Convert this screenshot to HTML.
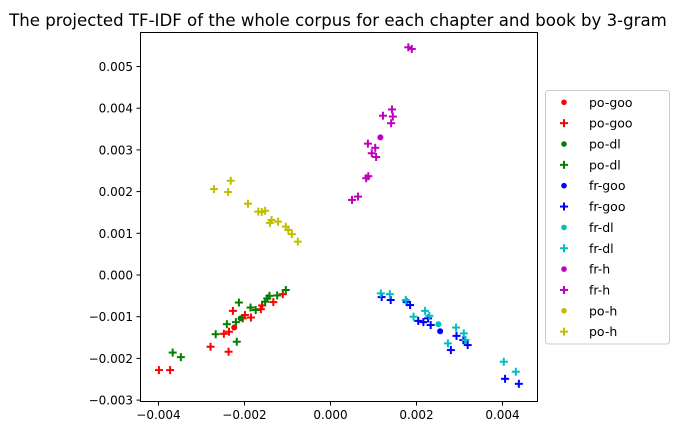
<!DOCTYPE html>
<html><head><meta charset="utf-8"><style>
body{margin:0;background:#fff;width:677px;height:435px;overflow:hidden;font-family:"Liberation Sans","DejaVu Sans",sans-serif}
svg text{font-family:"DejaVu Sans","Liberation Sans",sans-serif}
</style></head><body>
<svg id="chart" width="677" height="435" xmlns="http://www.w3.org/2000/svg">
<text x="338" y="26" font-size="16.6" text-anchor="middle">The projected TF-IDF of the whole corpus for each chapter and book by 3-gram</text>
<rect x="140.5" y="32.5" width="397" height="369" fill="none" stroke="#000" stroke-width="1"/>
<g id="axes"></g><g id="marks"></g>
<g id="legend"></g>
</svg>
<script>
const xTicks=[-0.004,-0.002,0.000,0.002,0.004];
const xTickLabels=["−0.004","−0.002","0.000","0.002","0.004"];
const yTicks=[-0.003,-0.002,-0.001,0.000,0.001,0.002,0.003,0.004,0.005];
const yTickLabels=["−0.003","−0.002","−0.001","0.000","0.001","0.002","0.003","0.004","0.005"];
const seriesNames=["po-goo","po-dl","fr-goo","fr-dl","fr-h","po-h"];
const seriesColors=["#ff0000","#008000","#0000ff","#00bfbf","#bf00bf","#bfbf00"];
const poGooX=[-0.00399,-0.00373,-0.00279,-0.00237,-0.00248,-0.00236,-0.00227,-0.00199,-0.00204,-0.00185,-0.00162,-0.00159,-0.00133,-0.00111];
const poGooY=[-0.00228,-0.00228,-0.00172,-0.00184,-0.00141,-0.00136,-0.00086,-0.00096,-0.00104,-0.00102,-0.00082,-0.00073,-0.00065,-0.00046];
const poDlX=[-0.00367,-0.00348,-0.00267,-0.00241,-0.00218,-0.00213,-0.00220,-0.00186,-0.00174,-0.00152,-0.00147,-0.00142,-0.00124,-0.00104];
const poDlY=[-0.00186,-0.00197,-0.00142,-0.00118,-0.00160,-0.00066,-0.00113,-0.00078,-0.00084,-0.00064,-0.00056,-0.00050,-0.00049,-0.00036];
const frGooX=[0.00119,0.00140,0.00177,0.00185,0.00204,0.00216,0.00227,0.00233,0.00293,0.00309,0.00319,0.00280,0.00406,0.00438];
const frGooY=[-0.00053,-0.00060,-0.00065,-0.00072,-0.00110,-0.00113,-0.00104,-0.00120,-0.00146,-0.00156,-0.00168,-0.00180,-0.00249,-0.00261];
const frDlX=[0.00117,0.00138,0.00175,0.00193,0.00220,0.00230,0.00292,0.00310,0.00314,0.00273,0.00403,0.00431];
const frDlY=[-0.00044,-0.00046,-0.00060,-0.00100,-0.00086,-0.00098,-0.00126,-0.00140,-0.00156,-0.00164,-0.00208,-0.00232];
const frHX=[0.00181,0.00189,0.00143,0.00122,0.00145,0.00141,0.00087,0.00104,0.00096,0.00106,0.00088,0.00083,0.00064,0.00050];
const frHY=[0.00546,0.00542,0.00397,0.00382,0.00380,0.00364,0.00315,0.00305,0.00292,0.00283,0.00237,0.00232,0.00188,0.00180];
const poHX=[-0.00232,-0.00271,-0.00238,-0.00192,-0.00168,-0.00152,-0.00160,-0.00137,-0.00141,-0.00122,-0.00104,-0.00098,-0.00090,-0.00076];
const poHY=[0.00226,0.00206,0.00199,0.00171,0.00152,0.00154,0.00151,0.00132,0.00125,0.00128,0.00116,0.00108,0.00098,0.00080];
const meanX=[-0.00224,-0.00209,0.00255,0.00251,0.00116,-0.00232];
const meanY=[-0.00126,-0.00104,-0.00135,-0.00118,0.00330,0.00226];
const crossX=[poGooX,poDlX,frGooX,frDlX,frHX,poHX];
const crossY=[poGooY,poDlY,frGooY,frDlY,frHY,poHY];
const showDot=[true,true,true,true,true,false];

const NS="http://www.w3.org/2000/svg";
const xs=v=>330.5+v*43000;
const ys=v=>275-v*41700;
function mk(tag,attrs,parent){const e=document.createElementNS(NS,tag);for(const k in attrs)e.setAttribute(k,attrs[k]);parent.appendChild(e);return e;}
const axes=document.getElementById('axes'),marks=document.getElementById('marks'),leg=document.getElementById('legend');
xTicks.forEach((t,i)=>{const x=xs(t);
 const l=mk('line',{x1:x,x2:x,y1:402,y2:405.5,stroke:'#000'},axes);
 
 
 const tx=mk('text',{x:x,y:419,'font-size':12,'text-anchor':'middle'},axes);tx.textContent=xTickLabels[i];
 
 });
yTicks.forEach((t,i)=>{const y=ys(t);
 const l=mk('line',{x1:136.5,x2:140.5,y1:y,y2:y,stroke:'#000'},axes);
 
 
 const tx=mk('text',{x:133,y:y+4.5,'font-size':12,'text-anchor':'end'},axes);tx.textContent=yTickLabels[i];
 
 });
function cross(x,y,c,p){const g=mk('g',{},p);mk('line',{x1:x-4,x2:x+4,y1:y,y2:y,stroke:c,'stroke-width':2},g);mk('line',{x1:x,x2:x,y1:y-4,y2:y+4,stroke:c,'stroke-width':2},g);return g;}
seriesNames.forEach((n,s)=>{
 if(showDot[s]){const d=mk('circle',{cx:xs(meanX[s]),cy:ys(meanY[s]),r:3,fill:seriesColors[s]},marks);
  
  }
 crossX[s].forEach((v,i)=>{const g=cross(xs(v),ys(crossY[s][i]),seriesColors[s],marks);
  
  });
});
mk('rect',{x:545.5,y:90.5,width:124,height:253.5,rx:3,fill:'#fff',stroke:'#ccc'},leg);
seriesNames.forEach((n,s)=>{
 [0,1].forEach(k=>{const y=102.3+(s*2+k)*20.85;
  const g=mk('g',{},leg);
  
  
  if(k===0)mk('circle',{cx:564,cy:y,r:2.8,fill:seriesColors[s]},g);else cross(564,y,seriesColors[s],g);
  const t=mk('text',{x:589,y:y+4.5,'font-size':12.5},g);t.textContent=n;});
});
</script>
</body></html>
